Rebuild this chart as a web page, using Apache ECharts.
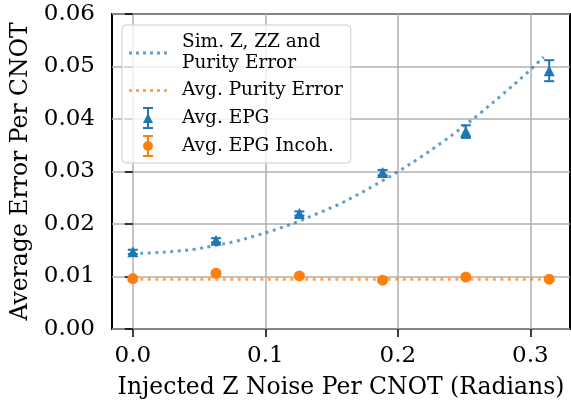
<!DOCTYPE html>
<html>
<head>
<meta charset="utf-8">
<script src="https://cdn.jsdelivr.net/npm/echarts@6/dist/echarts.min.js"></script>
<style>
  html, body { margin: 0; padding: 0; background: #fff; }
  #chart-container { width: 571px; height: 405px; }
</style>
</head>
<body>
<div id="chart-container"></div>
<script>
// injected noise per CNOT (radians), pi/50 steps
var noiseX = [0, 0.0628, 0.1257, 0.1885, 0.2513, 0.3142];
var epg = [0.0147, 0.0169, 0.0220, 0.0298, 0.0376, 0.0492];
var epgErr = [0.0004, 0.0004, 0.0004, 0.0005, 0.0012, 0.0020];
var epgIncoh = [0.0096, 0.0106, 0.0101, 0.0093, 0.0099, 0.0095];
var incohErr = [0.0003, 0.0004, 0.0003, 0.0003, 0.0003, 0.0003];

// simulated curve
var simX = [0, 0.0155, 0.031, 0.0465, 0.062, 0.0775, 0.093, 0.1085, 0.124, 0.1395, 0.155,
            0.1705, 0.186, 0.2015, 0.217, 0.2325, 0.248, 0.2635, 0.279, 0.2945, 0.31];
var simY = [0.0144, 0.0145, 0.0148, 0.0152, 0.0159, 0.0167, 0.0178, 0.0190, 0.0204, 0.0220, 0.0237,
            0.0257, 0.0279, 0.0302, 0.0327, 0.0354, 0.0383, 0.0414, 0.0447, 0.0481, 0.0518];

var purityX = [0, 0.3142];
var purityY = [0.0095, 0.0095];

var xTicks = [0, 0.1, 0.2, 0.3];

var legendNames = ['Sim. Z, ZZ and\nPurity Error', 'Avg. Purity Error', 'Avg. EPG', 'Avg. EPG Incoh.'];

var BLUE = '#1f77b4';
var ORANGE = '#ff7f0e';
var FONT = 'DejaVu Serif';

function pairs(xs, ys) {
    return xs.map(function (x, i) { return [x, ys[i]]; });
}

function errData(xs, ys, es) {
    return xs.map(function (x, i) { return [x, ys[i] - es[i], ys[i] + es[i]]; });
}

function errorBars(api) {
    var lo = api.coord([api.value(0), api.value(1)]);
    var hi = api.coord([api.value(0), api.value(2)]);
    var c = api.visual('color');
    var half = 5;
    var st = { stroke: c, lineWidth: 2 };
    return {
        type: 'group',
        children: [
            { type: 'line', shape: { x1: lo[0], y1: lo[1], x2: hi[0], y2: hi[1] }, style: st },
            { type: 'line', shape: { x1: lo[0] - half, y1: lo[1], x2: lo[0] + half, y2: lo[1] }, style: st },
            { type: 'line', shape: { x1: hi[0] - half, y1: hi[1], x2: hi[0] + half, y2: hi[1] }, style: st }
        ]
    };
}

var dotsIcon = 'path://M0,0h3v3h-3zM7,0h3v3h-3zM14,0h3v3h-3zM21,0h3v3h-3zM28,0h3v3h-3zM35,0h3v3h-3z';
var triIcon = 'path://M0,0h10v2h-10zM0,20h10v2h-10zM4,0h2v22h-2zM0,16L5,6L10,16z';
var dotIcon = 'path://M0,0h10v2h-10zM0,20h10v2h-10zM4,0h2v22h-2zM0,11a5,5 0 1,1 10,0a5,5 0 1,1 -10,0z';

var dom = document.getElementById('chart-container');
var myChart = echarts.init(dom, null, { renderer: 'canvas' });

var option = {
    animation: false,
    grid: {
        left: 112, right: 1, top: 14, bottom: 73,
        show: true, borderColor: '#000', borderWidth: 2
    },
    legend: {
        orient: 'vertical',
        left: 122, top: 25,
        itemWidth: 38, itemHeight: 22, itemGap: 6,
        padding: [7, 8, 6, 7],
        backgroundColor: 'rgba(255,255,255,0.8)',
        borderColor: '#cccccc', borderWidth: 1, borderRadius: 4,
        textStyle: { fontFamily: FONT, fontSize: 18.5, color: '#000', padding: [0, 0, 0, 10], lineHeight: 21 },
        data: [
            { name: legendNames[0], icon: dotsIcon, itemStyle: { color: BLUE, opacity: 0.7 } },
            { name: legendNames[1], icon: dotsIcon, itemStyle: { color: ORANGE, opacity: 0.7 } },
            { name: legendNames[2], icon: triIcon, itemStyle: { color: BLUE } },
            { name: legendNames[3], icon: dotIcon, itemStyle: { color: ORANGE } }
        ]
    },
    xAxis: {
        type: 'value',
        min: -0.0157, max: 0.3299,
        name: 'Injected Z Noise Per CNOT (Radians)',
        nameLocation: 'middle', nameGap: 47,
        nameTextStyle: { fontFamily: FONT, fontSize: 23.5, color: '#000' },
        axisLine: { show: false },
        axisTick: { show: true, length: 8, lineStyle: { color: '#000', width: 1.5 }, customValues: xTicks },
        axisLabel: {
            customValues: xTicks, margin: 16,
            fontFamily: FONT, fontSize: 23, color: '#000',
            formatter: function (v) { return v.toFixed(1); }
        },
        splitLine: { show: true, lineStyle: { color: '#b0b0b0', width: 1.5 } }
    },
    yAxis: {
        type: 'value',
        min: 0, max: 0.06, interval: 0.01,
        name: 'Average Error Per CNOT',
        nameLocation: 'middle', nameGap: 76,
        nameTextStyle: { fontFamily: FONT, fontSize: 23.5, color: '#000' },
        axisLine: { show: false },
        axisTick: { show: true, length: 8, lineStyle: { color: '#000', width: 1.5 } },
        axisLabel: {
            margin: 17,
            fontFamily: FONT, fontSize: 23, color: '#000',
            formatter: function (v) { return v.toFixed(2); }
        },
        splitLine: { show: true, lineStyle: { color: '#b0b0b0', width: 1.5 } }
    },
    series: [
        {
            name: legendNames[0],
            type: 'line',
            data: pairs(simX, simY),
            smooth: true,
            showSymbol: false,
            z: 3,
            itemStyle: { color: BLUE },
            lineStyle: { color: BLUE, opacity: 0.7, width: 3, type: [3, 4.5] }
        },
        {
            name: legendNames[1],
            type: 'line',
            data: pairs(purityX, purityY),
            showSymbol: false,
            z: 3,
            itemStyle: { color: ORANGE },
            lineStyle: { color: ORANGE, opacity: 0.7, width: 3, type: [3, 4.5] }
        },
        {
            name: 'epgErr',
            type: 'custom',
            data: errData(noiseX, epg, epgErr),
            encode: { x: 0, y: [1, 2] },
            itemStyle: { color: BLUE },
            renderItem: function (params, api) { return errorBars(api); },
            z: 2
        },
        {
            name: legendNames[2],
            type: 'scatter',
            data: pairs(noiseX, epg),
            symbol: 'triangle',
            symbolSize: 11,
            itemStyle: { color: BLUE, opacity: 1 },
            z: 2
        },
        {
            name: 'incohErr',
            type: 'custom',
            data: errData(noiseX, epgIncoh, incohErr),
            encode: { x: 0, y: [1, 2] },
            itemStyle: { color: ORANGE },
            renderItem: function (params, api) { return errorBars(api); },
            z: 2
        },
        {
            name: legendNames[3],
            type: 'scatter',
            data: pairs(noiseX, epgIncoh),
            symbol: 'circle',
            symbolSize: 11,
            itemStyle: { color: ORANGE, opacity: 1 },
            z: 2
        }
    ]
};

myChart.setOption(option);
window.addEventListener('resize', myChart.resize);
</script>
</body>
</html>
